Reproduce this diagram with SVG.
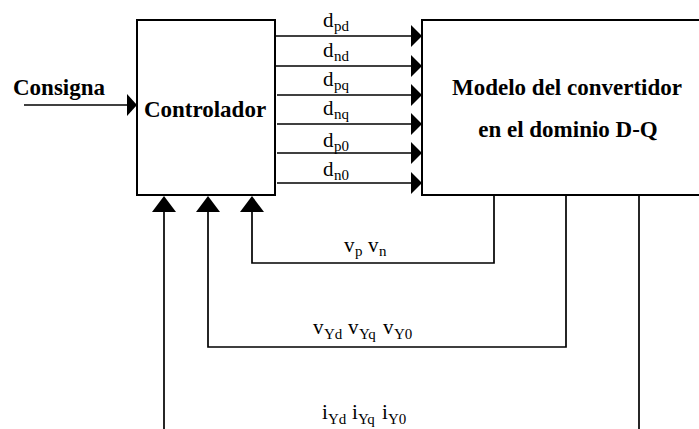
<svg xmlns="http://www.w3.org/2000/svg" width="699" height="429" viewBox="0 0 699 429">
<style>
.box{fill:#fff;stroke:#000;stroke-width:2}
.ln{fill:none;stroke:#000;stroke-width:1.7}
.ah{fill:#000;stroke:none}
.b{font-family:"Liberation Serif","Times New Roman",serif;font-weight:bold;font-size:23px;fill:#000}
.m{font-family:"Liberation Serif","Times New Roman",serif;font-size:21px;fill:#000}
.s{font-family:"Liberation Serif","Times New Roman",serif;font-size:15px;fill:#000}
</style>
<rect width="699" height="429" fill="#fff"/>
<g id="controlador">
<rect class="box" x="137" y="20" width="138" height="175"/>
<text class="b" x="205" y="117" text-anchor="middle">Controlador</text>
</g>
<g id="modelo">
<rect class="box" x="422" y="20" width="300" height="175"/>
<text class="b" x="567" y="95" text-anchor="middle">Modelo del convertidor</text>
<text class="b" x="568" y="137" text-anchor="middle">en el dominio D-Q</text>
</g>
<g id="consigna">
<text class="b" x="13" y="95">Consigna</text>
</g>
<g id="connectors">
<line class="ln" x1="24" y1="105" x2="128" y2="105"/>
<polygon class="ah" points="127,94 137,105 127,116"/>
<line class="ln" x1="275" y1="36" x2="412" y2="36"/>
<polygon class="ah" points="411,25 422,36 411,47"/>
<line class="ln" x1="275" y1="66" x2="412" y2="66"/>
<polygon class="ah" points="411,55 422,66 411,77"/>
<line class="ln" x1="277" y1="95" x2="412" y2="95"/>
<polygon class="ah" points="411,84 422,95 411,106"/>
<line class="ln" x1="277" y1="124" x2="412" y2="124"/>
<polygon class="ah" points="411,113 422,124 411,135"/>
<line class="ln" x1="277" y1="153" x2="412" y2="153"/>
<polygon class="ah" points="411,142 422,153 411,164"/>
<line class="ln" x1="277" y1="183" x2="412" y2="183"/>
<polygon class="ah" points="411,172 422,183 411,194"/>
<polyline class="ln" points="494,195 494,263 252,263 252,211"/>
<polygon class="ah" points="240,212 252,196 264,212"/>
<polyline class="ln" points="566,195 566,347 208,347 208,211"/>
<polygon class="ah" points="196,212 208,196 220,212"/>
<line class="ln" x1="639" y1="195" x2="639" y2="430"/>
<line class="ln" x1="164" y1="430" x2="164" y2="211"/>
<polygon class="ah" points="152,212 164,196 176,212"/>
</g>
<g id="labels">
<text class="m" x="323" y="27">d</text><text class="s" x="334" y="31">pd</text>
<text class="m" x="323" y="57">d</text><text class="s" x="334" y="61">nd</text>
<text class="m" x="323" y="86">d</text><text class="s" x="334" y="90">pq</text>
<text class="m" x="323" y="115">d</text><text class="s" x="334" y="119">nq</text>
<text class="m" x="323" y="147">d</text><text class="s" x="334" y="151">p0</text>
<text class="m" x="323" y="176">d</text><text class="s" x="334" y="180">n0</text>
<text class="m" x="344" y="252">v</text><text class="s" x="355" y="256">p</text>
<text class="m" x="368" y="252">v</text><text class="s" x="379" y="256">n</text>
<text class="m" x="313" y="334">v</text><text class="s" x="324" y="339">Yd</text>
<text class="m" x="348" y="334">v</text><text class="s" x="359" y="339">Yq</text>
<text class="m" x="383" y="334">v</text><text class="s" x="394" y="339">Y0</text>
<text class="m" x="322" y="419">i</text><text class="s" x="328" y="424">Yd</text>
<text class="m" x="352" y="419">i</text><text class="s" x="358" y="424">Yq</text>
<text class="m" x="382" y="419">i</text><text class="s" x="388" y="424">Y0</text>
</g>
</svg>
